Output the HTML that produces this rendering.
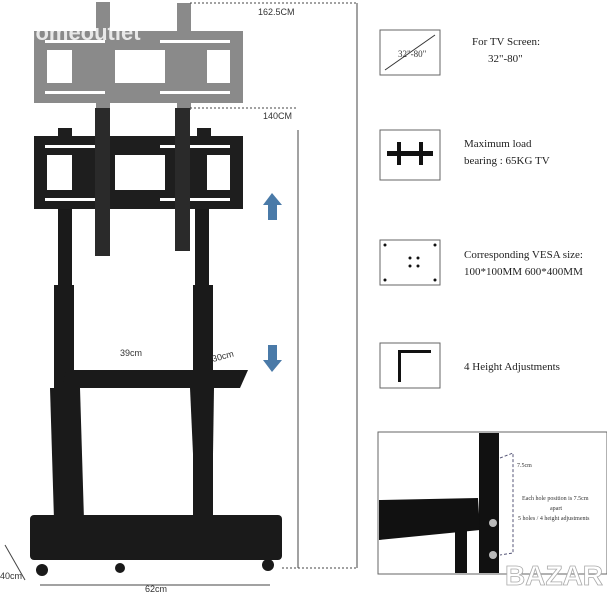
<!DOCTYPE html>
<html><head><style>
body{margin:0;background:#fff;width:607px;height:600px;overflow:hidden;font-family:"Liberation Serif",serif}
svg{position:absolute;left:0;top:0}
</style></head><body>
<svg width="607" height="600" viewBox="0 0 607 600" font-family="Liberation Serif, serif">
<!-- ghost bracket -->
<g fill="#8a8a8a">
<rect x="34" y="31" width="209" height="72"/>
<rect x="96" y="2" width="14" height="108"/>
<rect x="177" y="3" width="14" height="107"/>
</g>
<g fill="#fff">
<rect x="47" y="50" width="25" height="33"/><rect x="115" y="50" width="50" height="33"/><rect x="207" y="50" width="23" height="33"/>
<rect x="45" y="40" width="60" height="3"/><rect x="160" y="40" width="70" height="3"/>
<rect x="45" y="91" width="60" height="3"/><rect x="160" y="91" width="70" height="3"/>
</g>
<text x="22" y="40" font-family="Liberation Sans, sans-serif" font-weight="bold" font-size="22" fill="#fff" fill-opacity="0.8">homeoutlet</text>
<!-- black bracket -->
<g fill="#1e1e1e">
<rect x="34" y="136" width="209" height="73"/>
<rect x="58" y="128" width="14" height="10"/><rect x="197" y="128" width="14" height="10"/>
</g>
<g fill="#fff">
<rect x="47" y="155" width="25" height="35"/><rect x="115" y="155" width="50" height="35"/><rect x="207" y="155" width="23" height="35"/>
<rect x="45" y="145" width="60" height="3"/><rect x="160" y="145" width="70" height="3"/>
<rect x="45" y="198" width="60" height="3"/><rect x="160" y="198" width="70" height="3"/>
</g>
<g fill="#2a2a2a">
<rect x="95" y="108" width="15" height="148"/><rect x="175" y="108" width="15" height="143"/>
</g>
<!-- poles -->
<g fill="#1a1a1a">
<rect x="58" y="209" width="14" height="80"/><rect x="195" y="209" width="14" height="80"/>
<rect x="54" y="285" width="20" height="240"/><rect x="193" y="285" width="20" height="240"/>
<polygon points="66,370 248,370 240,388 62,388"/>
<polygon points="66,388 80,388 84,520 70,520"/>
<polygon points="190,388 214,388 212,520 196,520"/>
<polygon points="50,388 62,388 66,520 54,520"/>
<rect x="30" y="515" width="252" height="45" rx="4"/>
<circle cx="42" cy="570" r="6"/><circle cx="268" cy="565" r="6"/><circle cx="120" cy="568" r="5"/>
</g>
<!-- dimension lines -->
<g stroke="#444" stroke-width="1" fill="none">
<line x1="190" y1="3" x2="357" y2="3" stroke-dasharray="2,2"/>
<line x1="190" y1="108" x2="298" y2="108" stroke-dasharray="2,2"/>
<line x1="357" y1="3" x2="357" y2="568"/>
<line x1="298" y1="130" x2="298" y2="568"/>
<line x1="282" y1="568" x2="357" y2="568" stroke-dasharray="2,2"/>
<line x1="5" y1="545" x2="25" y2="580"/>
<line x1="40" y1="585" x2="270" y2="585"/>
</g>
<g fill="#4a7aa8"><polygon points="272,193 263,205 268,205 268,220 277,220 277,205 282,205"/>
<polygon points="272,372 263,360 268,360 268,345 277,345 277,360 282,360"/></g>
<g font-family="Liberation Sans, sans-serif" font-size="9" fill="#333">
<text x="258" y="15">162.5CM</text><text x="263" y="119">140CM</text>
<text x="120" y="356">39cm</text><text x="213" y="362" transform="rotate(-15 213 362)">30cm</text>
<text x="0" y="579">40cm</text><text x="145" y="592">62cm</text>
</g>
<!-- right panels -->
<g fill="none" stroke="#666" stroke-width="1">
<rect x="380" y="30" width="60" height="45"/><rect x="380" y="130" width="60" height="50"/>
<rect x="380" y="240" width="60" height="45"/><rect x="380" y="343" width="60" height="45"/>
<rect x="378" y="432" width="229" height="142"/>
</g>
<text x="398" y="57" font-size="9" fill="#333">32"-80"</text>
<line x1="385" y1="70" x2="435" y2="35" stroke="#333"/>
<g fill="#111"><rect x="387" y="151" width="46" height="5"/><rect x="397" y="142" width="4" height="23"/><rect x="419" y="142" width="4" height="23"/>
<circle cx="410" cy="258" r="1.5"/><circle cx="418" cy="258" r="1.5"/><circle cx="410" cy="266" r="1.5"/><circle cx="418" cy="266" r="1.5"/>
<circle cx="385" cy="245" r="1.5"/><circle cx="435" cy="245" r="1.5"/><circle cx="385" cy="280" r="1.5"/><circle cx="435" cy="280" r="1.5"/>
<rect x="398" y="350" width="3" height="32"/><rect x="398" y="350" width="33" height="3"/></g>
<g font-size="11" fill="#222">
<text x="472" y="45">For TV Screen:</text><text x="488" y="62">32"-80"</text>
<text x="464" y="147">Maximum load</text><text x="464" y="164">bearing : 65KG TV</text>
<text x="464" y="258">Corresponding VESA size:</text><text x="464" y="275">100*100MM   600*400MM</text>
<text x="464" y="370">4 Height Adjustments</text>
</g>
<g fill="#111"><rect x="479" y="433" width="20" height="140"/>
<polygon points="379,500 478,498 480,530 379,540"/><rect x="455" y="530" width="12" height="43"/></g>
<g fill="#bbb"><circle cx="493" cy="523" r="4"/><circle cx="493" cy="555" r="4"/></g>
<polyline points="500,458 513,453 513,553 500,555" fill="none" stroke="#557" stroke-dasharray="3,2"/>
<g font-size="6" fill="#333"><text x="517" y="467">7.5cm</text><text x="522" y="500">Each hole position is 7.5cm</text><text x="550" y="510">apart</text><text x="518" y="520">5 holes / 4 height adjustments</text></g>
<text x="505" y="585" font-family="Liberation Sans, sans-serif" font-weight="bold" font-size="28" fill="#fff" stroke="#aaa" stroke-width="0.8">BAZAR</text>
</svg>
</body></html>
